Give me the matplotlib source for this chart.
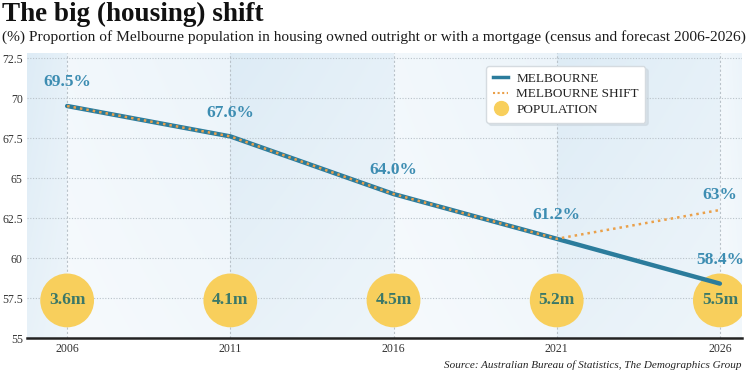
import matplotlib
matplotlib.use("Agg")
import matplotlib.pyplot as plt
import numpy as np
from matplotlib.lines import Line2D

# ---- data ----
years = [2006, 2011, 2016, 2021, 2026]
melbourne = [69.5, 67.6, 64.0, 61.2, 58.4]
shift_years = [2006, 2011, 2016, 2021, 2026]
melbourne_shift = [69.5, 67.6, 64.0, 61.2, 63.0]
population = ["3.6m", "4.1m", "4.5m", "5.2m", "5.5m"]
melb_labels = ["69.5%", "67.6%", "64.0%", "61.2%", "58.4%"]
shift_label = "63%"
yticks = [55, 57.5, 60, 62.5, 65, 67.5, 70, 72.5]
ytick_labels = ["55", "57.5", "60", "62.5", "65", "67.5", "70", "72.5"]

title = "The big (housing) shift"
subtitle = ("(%) Proportion of Melbourne population in housing owned outright "
            "or with a mortgage (census and forecast 2006-2026)")
source = "Source: Australian Bureau of Statistics, The Demographics Group"

SERIF = ["Liberation Serif", "DejaVu Serif"]
TEAL = "#2b7c9c"
LABEL_BLUE = "#3d8db2"
ORANGE = "#eaa04a"
YELLOW = "#f8cf5c"
POP_TEXT = "#3b7868"

fig = plt.figure(figsize=(7.5, 3.71), dpi=100)
fig.patch.set_facecolor("white")
ax = fig.add_axes([0.036, 0.0889, 0.953, 0.7677])

xmin, xmax = 2004.77, 2026.67
ymin, ymax = 55, 72.8
ax.set_xlim(xmin, xmax)
ax.set_ylim(ymin, ymax)

# background: alternating soft blue bands with gentle gradient
edges = [xmin] + years + [xmax]
dark = np.array([0.870, 0.925, 0.964])
light = np.array([0.950, 0.972, 0.988])
for i in range(len(edges) - 1):
    a, b = edges[i], edges[i + 1]
    c0 = dark if i % 2 == 0 else light
    c1 = (dark * 0.6 + light * 0.4) if i % 2 == 0 else (light * 0.7 + dark * 0.3)
    t = np.linspace(0, 1, 64)
    row = c0[None, :] * (1 - t[:, None]) + c1[None, :] * t[:, None]
    vert = np.linspace(1.0, 0.0, 32)  # top lighter
    img = row[None, :, :] * (1 - 0.3 * vert[:, None, None]) + 0.3 * vert[:, None, None]
    ax.imshow(img, extent=[a, b, ymin, ymax], aspect="auto", origin="lower",
              zorder=0, interpolation="bilinear")

# grid
for y in yticks[1:]:
    ax.axhline(y, color="#b9c2c9", lw=0.8, ls=(0, (1, 1.5)), zorder=1)
for x in years:
    ax.axvline(x, color="#b9c2c9", lw=0.8, ls=(0, (2, 2)), zorder=1)

# population circles
pop_y = [57.35] * len(years)
ax.scatter(years, pop_y, s=1500, color=YELLOW, zorder=3, edgecolors="none")
for x, y, t in zip(years, pop_y, population):
    ax.text(x, y, t, ha="center", va="center", fontsize=12.5, fontweight="bold",
            color=POP_TEXT, family=SERIF, zorder=6)

# lines
ax.plot(years, melbourne, color=TEAL, lw=3.2, zorder=4, solid_capstyle="round")
ax.plot(shift_years, melbourne_shift, color=ORANGE, lw=1.8, ls=(0, (1, 1.6)), zorder=5)

# labels
for x, y, t in zip(years, melbourne, melb_labels):
    ax.annotate(t, (x, y), xytext=(0, 17), textcoords="offset points",
                ha="center", va="center", fontsize=12.5, fontweight="bold",
                color=LABEL_BLUE, family=SERIF, zorder=6)
ax.annotate(shift_label, (shift_years[-1], melbourne_shift[-1]), xytext=(0, 11),
            textcoords="offset points", ha="center", va="center", fontsize=12.5,
            fontweight="bold", color=LABEL_BLUE, family=SERIF, zorder=6)

# axes styling
for s in ["top", "right", "left"]:
    ax.spines[s].set_visible(False)
ax.spines["bottom"].set_color("#222222")
ax.spines["bottom"].set_linewidth(1.8)
ax.set_xticks(years)
ax.set_xticklabels([str(y) for y in years])
ax.set_yticks(yticks)
ax.set_yticklabels(ytick_labels)
ax.tick_params(axis="both", length=0, labelsize=8.5, colors="#333333")
ax.tick_params(axis="x", pad=3.5)
ax.tick_params(axis="y", pad=3)
for lbl in ax.get_xticklabels() + ax.get_yticklabels():
    lbl.set_family(SERIF)

# legend
handles = [
    Line2D([], [], color=TEAL, lw=2.5),
    Line2D([], [], color=ORANGE, lw=1.5, ls=(0, (1, 1.2))),
    Line2D([], [], marker="o", color=YELLOW, ls="none", markersize=10),
]
leg = ax.legend(handles, ["MELBOURNE", "MELBOURNE SHIFT", "POPULATION"],
                loc="upper left", bbox_to_anchor=(0.633, 0.978), frameon=True,
                fancybox=True, shadow={"color": "#c8d2da", "alpha": 0.5},
                framealpha=1, edgecolor="#d5dbe0",
                handlelength=1.2, handletextpad=0.6, labelspacing=0.25,
                borderpad=0.5, prop={"family": SERIF, "size": 9.5})
for t in leg.get_texts():
    t.set_color("#222222")
leg.set_zorder(10)

# titles
fig.text(0.003, 0.995, title, ha="left", va="top", fontsize=19.5, fontweight="bold",
         family=SERIF, color="#111111")
fig.text(0.003, 0.918, subtitle, ha="left", va="top", fontsize=11.1,
         family=SERIF, color="#1a1a1a")
fig.text(0.989, 0.004, source, ha="right", va="bottom", fontsize=8,
         style="italic", family=SERIF, color="#222222")

fig.savefig("out.png", dpi=100, facecolor="white")
